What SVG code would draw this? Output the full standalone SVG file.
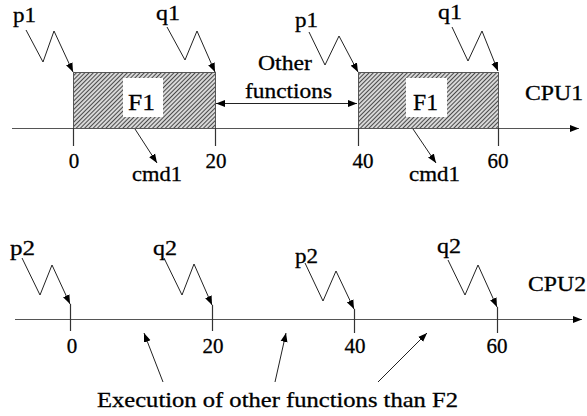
<svg xmlns="http://www.w3.org/2000/svg" width="587" height="416" viewBox="0 0 587 416">
<style>
text{font-family:'Liberation Serif','Times New Roman',serif;font-size:21px;fill:#000;stroke:#000;stroke-width:0.3}
.big{font-size:24px}
.cpu{font-size:22px}
.axis{stroke:#555;stroke-width:1.2;fill:none}
.tick{stroke:#333;stroke-width:1.2;fill:none}
.zz{stroke:#222;stroke-width:1;fill:none}
.ar{stroke:#222;stroke-width:1;fill:none;marker-end:url(#ah)}
</style>
<defs>
<marker id="ah" markerWidth="10" markerHeight="8" refX="9" refY="4" orient="auto" markerUnits="userSpaceOnUse">
<path d="M0,0.5 L9,4 L0,7.5 Z" fill="#000"/>
</marker>
<marker id="ahs" markerWidth="10" markerHeight="8" refX="1" refY="4" orient="auto" markerUnits="userSpaceOnUse">
<path d="M10,0.5 L1,4 L10,7.5 Z" fill="#000"/>
</marker>
<pattern id="hatch" width="3" height="3" patternUnits="userSpaceOnUse" patternTransform="rotate(45)">
<rect width="3" height="3" fill="#d8d8d8"/>
<line x1="0.5" y1="0" x2="0.5" y2="3" stroke="#4a4a4a" stroke-width="1"/>
</pattern>
</defs>

<g id="cpu1-boxes">
<g id="box1">
<rect x="73.5" y="72.5" width="142" height="56" fill="url(#hatch)" stroke="#555" stroke-width="1"/>
<rect x="123" y="78" width="40" height="39" fill="#fff"/>
<text class="big" x="128" y="110" textLength="27" lengthAdjust="spacingAndGlyphs">F1</text>
</g>
<g id="box2">
<rect x="358.5" y="72.5" width="140" height="56" fill="url(#hatch)" stroke="#555" stroke-width="1"/>
<rect x="406" y="78" width="41" height="39" fill="#fff"/>
<text class="big" x="413" y="110" textLength="25" lengthAdjust="spacingAndGlyphs">F1</text>
</g>
</g>

<g id="connectors">
<line class="axis" x1="12" y1="128.5" x2="579" y2="128.5" marker-end="url(#ah)"/>
<line class="axis" x1="15" y1="319.5" x2="582" y2="319.5" marker-end="url(#ah)"/>
<line class="tick" x1="73.5" y1="128" x2="73.5" y2="146"/>
<line class="tick" x1="215.5" y1="128" x2="215.5" y2="146"/>
<line class="tick" x1="358.5" y1="128" x2="358.5" y2="146"/>
<line class="tick" x1="498.5" y1="128" x2="498.5" y2="146"/>
<line class="tick" x1="70.5" y1="304" x2="70.5" y2="331"/>
<line class="tick" x1="212.5" y1="305" x2="212.5" y2="331"/>
<line class="tick" x1="354.5" y1="309" x2="354.5" y2="333"/>
<line class="tick" x1="497.5" y1="307" x2="497.5" y2="333"/>
<polyline class="ar" points="26,30 43,62 54,31 73,72"/>
<polyline class="ar" points="167,27 185,60 197,31 215,72"/>
<polyline class="ar" points="309,32 325,65 339,36 358,72"/>
<polyline class="ar" points="452,27 468,61 482,31 498,71"/>
<polyline class="ar" points="22,258 40,295 52,265 70,304"/>
<polyline class="ar" points="164,258 182,295 194,264 212,305"/>
<polyline class="ar" points="305,263 323,301 336,271 354,309"/>
<polyline class="ar" points="448,260 465,295 478,265 497,307"/>
<line class="ar" x1="135" y1="129" x2="157" y2="163"/>
<line class="ar" x1="413" y1="129" x2="436" y2="163"/>
<line class="zz" x1="216" y1="103.5" x2="357" y2="103.5" marker-start="url(#ahs)" marker-end="url(#ah)"/>
<line class="ar" x1="163" y1="382" x2="144" y2="333"/>
<line class="ar" x1="275" y1="382" x2="286" y2="333"/>
<line class="ar" x1="378" y1="382" x2="427" y2="333"/>
</g>

<g id="labels">
<text x="13" y="22" textLength="23" lengthAdjust="spacingAndGlyphs">p1</text>
<text x="156" y="20" textLength="24" lengthAdjust="spacingAndGlyphs">q1</text>
<text x="295" y="27" textLength="23" lengthAdjust="spacingAndGlyphs">p1</text>
<text x="438" y="19" textLength="24" lengthAdjust="spacingAndGlyphs">q1</text>
<text x="258" y="70" textLength="54" lengthAdjust="spacingAndGlyphs">Other</text>
<text x="245" y="98" textLength="87" lengthAdjust="spacingAndGlyphs">functions</text>
<text class="cpu" x="525" y="100" textLength="58" lengthAdjust="spacingAndGlyphs">CPU1</text>
<text x="74" y="168" text-anchor="middle">0</text>
<text x="216" y="168" text-anchor="middle">20</text>
<text x="363" y="168" text-anchor="middle">40</text>
<text x="498" y="168" text-anchor="middle">60</text>
<text x="132" y="181" textLength="50" lengthAdjust="spacingAndGlyphs">cmd1</text>
<text x="409" y="181" textLength="51" lengthAdjust="spacingAndGlyphs">cmd1</text>
<text x="10" y="255" textLength="25" lengthAdjust="spacingAndGlyphs">p2</text>
<text x="153" y="255" textLength="24" lengthAdjust="spacingAndGlyphs">q2</text>
<text x="295" y="263" textLength="23" lengthAdjust="spacingAndGlyphs">p2</text>
<text x="437" y="253" textLength="24" lengthAdjust="spacingAndGlyphs">q2</text>
<text class="cpu" x="528" y="291" textLength="58" lengthAdjust="spacingAndGlyphs">CPU2</text>
<text x="72" y="353" text-anchor="middle">0</text>
<text x="213" y="353" text-anchor="middle">20</text>
<text x="355" y="353" text-anchor="middle">40</text>
<text x="497" y="353" text-anchor="middle">60</text>
<text x="97" y="407" textLength="361" lengthAdjust="spacingAndGlyphs">Execution of other functions than F2</text>
</g>
</svg>
